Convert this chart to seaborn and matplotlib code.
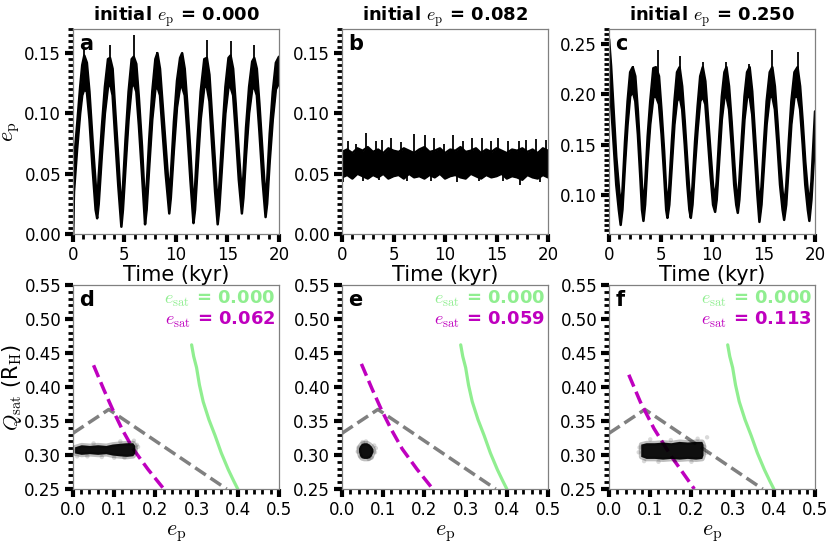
import numpy as np
import matplotlib
matplotlib.use("Agg")
import matplotlib.pyplot as plt
import seaborn as sns
from matplotlib.ticker import MultipleLocator

a_t = [0.0, 0.1, 0.4, 0.7, 0.9, 1.1, 1.35, 1.6, 1.9, 2.2, 2.35, 2.5, 2.8, 3.1, 3.4, 3.6, 3.85, 4.1,
       4.4, 4.7, 4.85, 5.1, 5.4, 5.7, 5.9, 6.15, 6.4, 6.7, 7.0, 7.15, 7.4, 7.7, 8.0, 8.2, 8.45, 8.7,
       9.0, 9.35, 9.5, 9.8, 10.1, 10.4, 10.6, 10.85, 11.1, 11.4, 11.7, 11.85, 12.1, 12.4, 12.75,
       13.0, 13.25, 13.5, 13.8, 14.05, 14.2, 14.5, 14.8, 15.1, 15.3, 15.55, 15.8, 16.1, 16.4,
       16.55, 16.8, 17.1, 17.4, 17.6, 17.85, 18.1, 18.4, 18.7, 18.85, 19.1, 19.4, 19.7, 20.0]
a_lo = [0.0, 0.035, 0.07, 0.10, 0.115, 0.12, 0.118, 0.095, 0.055, 0.02, 0.013, 0.025, 0.065, 0.10,
        0.122, 0.125, 0.115, 0.08, 0.04, 0.006, 0.02, 0.055, 0.095, 0.122, 0.125, 0.118, 0.09, 0.05,
        0.008, 0.02, 0.055, 0.095, 0.12, 0.122, 0.115, 0.085, 0.05, 0.017, 0.03, 0.07, 0.105,
        0.122, 0.122, 0.115, 0.085, 0.045, 0.009, 0.02, 0.055, 0.095, 0.122, 0.122, 0.11, 0.075,
        0.035, 0.008, 0.02, 0.06, 0.10, 0.122, 0.122, 0.115, 0.085, 0.045, 0.017, 0.03, 0.065,
        0.10, 0.12, 0.122, 0.115, 0.085, 0.045, 0.014, 0.025, 0.06, 0.095, 0.12, 0.125]
a_hi = [0.0, 0.06, 0.09, 0.122, 0.14, 0.148, 0.142, 0.118, 0.078, 0.042, 0.022, 0.048, 0.088, 0.122,
        0.145, 0.146, 0.137, 0.103, 0.063, 0.017, 0.038, 0.078, 0.118, 0.145, 0.147, 0.141, 0.113, 0.073,
        0.022, 0.038, 0.078, 0.118, 0.145, 0.15, 0.137, 0.108, 0.073, 0.032, 0.048, 0.093, 0.127,
        0.146, 0.15, 0.137, 0.108, 0.068, 0.022, 0.038, 0.078, 0.118, 0.145, 0.146, 0.132, 0.098,
        0.058, 0.022, 0.038, 0.083, 0.122, 0.146, 0.148, 0.137, 0.108, 0.068, 0.032, 0.048, 0.088,
        0.122, 0.143, 0.146, 0.137, 0.108, 0.068, 0.027, 0.043, 0.083, 0.118, 0.142, 0.147]
a_spike_t = [1.1, 3.55, 5.9, 8.2, 10.6, 13.0, 15.3, 17.6]
a_spike_top = [0.155, 0.157, 0.165, 0.151, 0.150, 0.161, 0.160, 0.157]
a_spike_base = 0.135

b_t = [0.0, 0.5, 1.0, 1.5, 2.0, 2.5, 3.0, 3.5, 4.0, 4.5, 5.0, 5.5, 6.0, 6.5, 7.0, 7.5, 8.0, 8.5,
       9.0, 9.5, 10.0, 10.5, 11.0, 11.5, 12.0, 12.5, 13.0, 13.5, 14.0, 14.5, 15.0, 15.5, 16.0,
       16.5, 17.0, 17.5, 18.0, 18.5, 19.0, 19.5, 20.0]
b_lo = [0.047, 0.049, 0.046, 0.050, 0.048, 0.046, 0.049, 0.047, 0.050, 0.046, 0.048, 0.049, 0.046,
        0.050, 0.047, 0.048, 0.046, 0.049, 0.047, 0.050, 0.046, 0.048, 0.049, 0.047, 0.046, 0.050,
        0.048, 0.046, 0.049, 0.047, 0.048, 0.050, 0.046, 0.048, 0.047, 0.045, 0.049, 0.047, 0.046,
        0.049, 0.047]
b_hi = [0.068, 0.070, 0.067, 0.071, 0.069, 0.072, 0.068, 0.070, 0.067, 0.071, 0.069, 0.068, 0.071,
        0.069, 0.067, 0.070, 0.072, 0.068, 0.069, 0.071, 0.067, 0.070, 0.069, 0.072, 0.068, 0.069,
        0.071, 0.067, 0.070, 0.068, 0.071, 0.069, 0.067, 0.070, 0.069, 0.071, 0.068, 0.070, 0.067,
        0.071, 0.069]
b_spike_t = [0.6, 1.33, 2.34, 3.25, 3.9, 4.75, 5.7, 7.0, 8.03, 8.94, 9.9, 10.8, 11.7, 12.6, 13.6,
             14.5, 15.1, 16.1, 17.2, 17.9, 18.8, 19.8]
b_spike_top = [0.077, 0.075, 0.084, 0.077, 0.078, 0.080, 0.076, 0.083, 0.082, 0.080, 0.075, 0.082,
               0.077, 0.080, 0.080, 0.077, 0.080, 0.077, 0.077, 0.078, 0.079, 0.078]
b_dip_t = [0.1, 2.0, 3.6, 6.3, 8.6, 11.2, 13.3, 15.6, 17.3, 19.2]
b_dip_bottom = [0.043, 0.044, 0.045, 0.044, 0.044, 0.043, 0.044, 0.044, 0.041, 0.043]
b_mid = 0.058

c_t = [0.0, 0.2, 0.45, 0.7, 0.95, 1.13, 1.3, 1.55, 1.8, 2.05, 2.3, 2.55, 2.8, 3.05, 3.2, 3.34, 3.5,
       3.75, 4.0, 4.3, 4.55, 4.85, 5.1, 5.35, 5.55, 5.67, 5.85, 6.1, 6.35, 6.6, 6.85, 7.1, 7.35,
       7.6, 7.8, 7.94, 8.1, 8.35, 8.6, 8.85, 9.1, 9.35, 9.6, 9.85, 10.1, 10.3, 10.45, 10.7, 10.95,
       11.2, 11.4, 11.65, 11.9, 12.15, 12.35, 12.5, 12.65, 12.9, 13.15, 13.4, 13.65, 13.9, 14.15,
       14.4, 14.6, 14.8, 15.05, 15.3, 15.6, 15.85, 16.1, 16.35, 16.6, 16.85, 17.0, 17.2, 17.45,
       17.7, 18.0, 18.3, 18.55, 18.8, 19.05, 19.3, 19.45, 19.65, 19.85, 20.0]
c_lo = [0.215, 0.19, 0.15, 0.11, 0.085, 0.07, 0.085, 0.13, 0.17, 0.198, 0.203, 0.193, 0.16, 0.115,
        0.085, 0.074, 0.09, 0.135, 0.17, 0.197, 0.198, 0.19, 0.16, 0.12, 0.085, 0.077, 0.09, 0.13,
        0.17, 0.193, 0.198, 0.185, 0.15, 0.11, 0.085, 0.077, 0.09, 0.13, 0.165, 0.193, 0.198, 0.19,
        0.155, 0.12, 0.09, 0.083, 0.095, 0.135, 0.175, 0.197, 0.198, 0.185, 0.15, 0.11, 0.09, 0.082,
        0.095, 0.135, 0.175, 0.197, 0.198, 0.18, 0.14, 0.10, 0.073, 0.09, 0.13, 0.17, 0.197, 0.198,
        0.185, 0.15, 0.11, 0.085, 0.075, 0.09, 0.13, 0.17, 0.197, 0.198, 0.185, 0.15, 0.11, 0.085,
        0.074, 0.095, 0.13, 0.155]
c_hi = [0.255, 0.228, 0.183, 0.138, 0.108, 0.088, 0.103, 0.153, 0.193, 0.222, 0.227, 0.218, 0.183,
        0.138, 0.108, 0.088, 0.108, 0.158, 0.193, 0.226, 0.227, 0.218, 0.183, 0.143, 0.103, 0.091,
        0.108, 0.153, 0.193, 0.222, 0.227, 0.208, 0.173, 0.133, 0.103, 0.091, 0.108, 0.153, 0.188,
        0.218, 0.227, 0.213, 0.178, 0.143, 0.108, 0.096, 0.113, 0.158, 0.198, 0.222, 0.227, 0.208,
        0.173, 0.133, 0.103, 0.095, 0.113, 0.158, 0.198, 0.222, 0.227, 0.203, 0.163, 0.123, 0.088,
        0.108, 0.153, 0.193, 0.222, 0.227, 0.208, 0.173, 0.133, 0.103, 0.089, 0.108, 0.153, 0.193,
        0.222, 0.227, 0.208, 0.173, 0.133, 0.103, 0.088, 0.113, 0.153, 0.183]
c_spike_t = [2.3, 4.8, 6.85, 9.1, 11.4, 13.6, 15.85, 18.3]
c_spike_top = [0.228, 0.244, 0.238, 0.232, 0.232, 0.230, 0.244, 0.242]
c_spike_base = 0.21

# ---- bottom row: Q_sat vs e_p ----
gray_e = [0.0, 0.087, 0.373]
gray_q = [0.332, 0.367, 0.25]
green_e = [0.288, 0.293, 0.300, 0.307, 0.316, 0.330, 0.345, 0.360, 0.377, 0.390, 0.400]
green_q = [0.462, 0.445, 0.4285, 0.403, 0.3785, 0.352, 0.3285, 0.303, 0.2785, 0.262, 0.250]
mag_d_e = [0.050, 0.075, 0.097, 0.120, 0.146, 0.182, 0.218]
mag_d_q = [0.432, 0.396, 0.366, 0.337, 0.309, 0.279, 0.252]
mag_e_e = [0.047, 0.073, 0.096, 0.120, 0.146, 0.182, 0.219]
mag_e_q = [0.434, 0.397, 0.366, 0.337, 0.309, 0.279, 0.251]
mag_f_e = [0.048, 0.076, 0.109, 0.150, 0.207]
mag_f_q = [0.418, 0.378, 0.339, 0.299, 0.250]

d_core_e = [0.004, 0.02, 0.04, 0.06, 0.08, 0.095, 0.11, 0.13, 0.145, 0.15]
d_core_lo = [0.303, 0.301, 0.302, 0.301, 0.302, 0.300, 0.299, 0.298, 0.299, 0.303]
d_core_hi = [0.312, 0.315, 0.314, 0.315, 0.314, 0.316, 0.317, 0.318, 0.318, 0.314]
d_pts_e = [0.002, 0.01, 0.035, 0.07, 0.10, 0.125, 0.152, 0.155, 0.158, 0.148, 0.05, 0.115]
d_pts_q = [0.306, 0.298, 0.298, 0.297, 0.296, 0.296, 0.309, 0.315, 0.312, 0.321, 0.317, 0.320]

e_core_e = [0.040, 0.043, 0.047, 0.053, 0.060, 0.066, 0.071, 0.075]
e_core_lo = [0.305, 0.299, 0.296, 0.295, 0.295, 0.296, 0.299, 0.305]
e_core_hi = [0.310, 0.314, 0.317, 0.318, 0.318, 0.316, 0.313, 0.309]
e_pts_e = [0.038, 0.040, 0.080, 0.082, 0.050, 0.065, 0.072, 0.045, 0.078, 0.058]
e_pts_q = [0.305, 0.311, 0.304, 0.310, 0.319, 0.294, 0.296, 0.298, 0.314, 0.320]

f_core_e = [0.077, 0.09, 0.11, 0.13, 0.15, 0.17, 0.19, 0.21, 0.225, 0.228]
f_core_lo = [0.298, 0.295, 0.295, 0.294, 0.295, 0.294, 0.295, 0.294, 0.295, 0.300]
f_core_hi = [0.316, 0.318, 0.318, 0.319, 0.318, 0.320, 0.319, 0.320, 0.320, 0.316]
f_pts_e = [0.072, 0.074, 0.085, 0.12, 0.16, 0.20, 0.232, 0.236, 0.238, 0.10, 0.15, 0.215]
f_pts_q = [0.304, 0.311, 0.291, 0.290, 0.291, 0.290, 0.312, 0.303, 0.326, 0.323, 0.322, 0.324]

init_labels = ['0.000', '0.082', '0.250']
esat_green = ['0.000', '0.000', '0.000']
esat_mag = ['0.062', '0.059', '0.113']

sns.set_style("ticks")
plt.rcParams['mathtext.fontset'] = 'cm'
plt.rcParams['font.family'] = ['DejaVu Sans']
plt.rcParams['text.color'] = 'k'
plt.rcParams['axes.labelcolor'] = 'k'
plt.rcParams['xtick.labelcolor'] = 'k'
plt.rcParams['ytick.labelcolor'] = 'k'

fig = plt.figure(figsize=(8.31, 5.44), dpi=100)
lefts = [0.0878, 0.4116, 0.7329]
w = 0.2479
top_axes = [fig.add_axes([l, 0.5699, w, 0.3768]) for l in lefts]
bot_axes = [fig.add_axes([l, 0.1011, w, 0.375]) for l in lefts]


def style(ax, xmaj, xmin, ymaj, ymin):
    ax.xaxis.set_major_locator(MultipleLocator(xmaj))
    ax.xaxis.set_minor_locator(MultipleLocator(xmin))
    ax.yaxis.set_major_locator(MultipleLocator(ymaj))
    ax.yaxis.set_minor_locator(MultipleLocator(ymin))
    ax.tick_params(which='major', direction='out', length=6, width=3, color='k',
                   labelcolor='k', labelsize=12, pad=2.5)
    ax.tick_params(which='minor', direction='out', length=3.5, width=2, color='k')
    for s in ax.spines.values():
        s.set_color('#808080')
        s.set_linewidth(0.9)


series = [(a_t, a_lo, a_hi), (b_t, b_lo, b_hi), (c_t, c_lo, c_hi)]
for i, ax in enumerate(top_axes):
    t, lo, hi = series[i]
    ax.fill_between(t, lo, hi, color='k', lw=0)
    sns.lineplot(x=t, y=lo, ax=ax, color='k', lw=1.8, sort=False, estimator=None)
    sns.lineplot(x=t, y=hi, ax=ax, color='k', lw=1.8, sort=False, estimator=None)
    ax.set_xlim(0, 20)
    ax.set_xlabel('Time (kyr)', fontsize=15, labelpad=1, color='k')
    ax.set_ylabel('')
    ax.set_title(r'initial $e_\mathrm{p}$ = ' + init_labels[i], fontweight='bold',
                 fontsize=13, pad=6, color='k')
    ax.text(0.03, 0.975, 'abc'[i], transform=ax.transAxes, fontsize=15,
            fontweight='bold', va='top', ha='left', color='k')

top_axes[0].vlines(a_spike_t, a_spike_base, a_spike_top, color='k', lw=1.3)
top_axes[1].vlines(b_spike_t, b_mid, b_spike_top, color='k', lw=1.3)
top_axes[1].vlines(b_dip_t, b_dip_bottom, b_mid, color='k', lw=1.3)
top_axes[2].vlines(c_spike_t, c_spike_base, c_spike_top, color='k', lw=1.3)

for ax in top_axes[:2]:
    ax.set_ylim(0, 0.17)
    style(ax, 5, 1, 0.05, 0.005)
top_axes[2].set_ylim(0.061, 0.265)
style(top_axes[2], 5, 1, 0.05, 0.005)
top_axes[0].set_ylabel(r'$e_\mathrm{p}$', fontsize=16, labelpad=2, color='k')

mags = [(mag_d_e, mag_d_q), (mag_e_e, mag_e_q), (mag_f_e, mag_f_q)]
cores = [(d_core_e, d_core_lo, d_core_hi), (e_core_e, e_core_lo, e_core_hi),
         (f_core_e, f_core_lo, f_core_hi)]
pts = [(d_pts_e, d_pts_q), (e_pts_e, e_pts_q), (f_pts_e, f_pts_q)]
for i, ax in enumerate(bot_axes):
    sns.lineplot(x=gray_e, y=gray_q, ax=ax, color='gray', lw=2.5, linestyle='--',
                 sort=False, estimator=None)
    sns.lineplot(x=mags[i][0], y=mags[i][1], ax=ax, color='m', lw=2.5, linestyle='--',
                 sort=False, estimator=None)
    sns.lineplot(x=green_e, y=green_q, ax=ax, color='lightgreen', lw=2.3,
                 sort=False, estimator=None)
    ce, clo, chi = cores[i]
    # soft halo, then the dense core of the point cloud
    ax.fill_between(ce, clo, chi, color='k', alpha=0.25, lw=3.5, edgecolor=(0, 0, 0, 0.25),
                    zorder=4)
    ax.fill_between(ce, clo, chi, color='k', alpha=0.92, lw=0, zorder=4)
    sns.scatterplot(x=pts[i][0], y=pts[i][1], ax=ax, color='k', alpha=0.15, s=10,
                    edgecolor='none', zorder=4)
    ax.set_xlim(0, 0.5)
    ax.set_ylim(0.25, 0.55)
    style(ax, 0.1, 0.02, 0.05, 0.01)
    ax.set_xlabel(r'$e_\mathrm{p}$', fontsize=16, labelpad=3, color='k')
    ax.set_ylabel('')
    ax.text(0.03, 0.975, 'def'[i], transform=ax.transAxes, fontsize=15,
            fontweight='bold', va='top', ha='left', color='k')
    ax.text(0.985, 0.907, r'$e_\mathrm{sat}$ = ' + esat_green[i], transform=ax.transAxes,
            color='lightgreen', fontweight='bold', fontsize=13, ha='right', va='baseline')
    ax.text(0.985, 0.804, r'$e_\mathrm{sat}$ = ' + esat_mag[i], transform=ax.transAxes,
            color='m', fontweight='bold', fontsize=13, ha='right', va='baseline')

bot_axes[0].set_ylabel(r'$Q_\mathrm{sat}$ (R$_\mathrm{H}$)', fontsize=15, labelpad=0, color='k')

fig.savefig('out.png', dpi=100)
plt.close(fig)
